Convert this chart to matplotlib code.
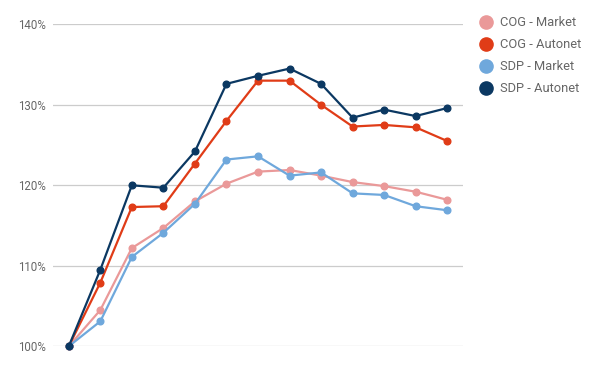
import matplotlib.pyplot as plt
from matplotlib.lines import Line2D

# values (percent of start)
periods = list(range(13))
cog_market = [100, 104.5, 112.2, 114.7, 118.0, 120.2, 121.7, 121.9, 121.2, 120.4, 119.9, 119.2, 118.2]
cog_autonet = [100, 107.9, 117.3, 117.4, 122.7, 128.0, 133.0, 133.0, 130.0, 127.3, 127.5, 127.2, 125.5]
sdp_market = [100, 103.1, 111.1, 114.1, 117.7, 123.2, 123.6, 121.2, 121.6, 119.0, 118.8, 117.4, 116.9]
sdp_autonet = [100, 109.5, 120.0, 119.7, 124.2, 132.6, 133.6, 134.5, 132.6, 128.4, 129.4, 128.6, 129.6]

series = [
    ("COG - Market", cog_market, "#ea9999"),
    ("COG - Autonet", cog_autonet, "#e03c17"),
    ("SDP - Market", sdp_market, "#6fa8dc"),
    ("SDP - Autonet", sdp_autonet, "#0b3862"),
]

plt.rcParams['font.family'] = ['Roboto', 'DejaVu Sans']

fig = plt.figure(figsize=(6, 3.71), dpi=100)
ax = fig.add_axes([53 / 600, 1 - 346.3 / 371, 410 / 600, 322 / 371])

handles = []
for name, vals, col in series:
    ax.plot(periods, vals, color=col, lw=1.6, marker='o', ms=4.8, clip_on=False, zorder=3)
    handles.append(Line2D([], [], color=col, marker='o', ls='none', ms=9.5, label=name))

ax.set_xlim(-0.5, 12.5)
ax.set_ylim(100, 140)
ax.set_yticks([100, 110, 120, 130, 140])
ax.set_yticklabels([f"{v}%" for v in [100, 110, 120, 130, 140]])
ax.set_xticks([])
ax.grid(axis='y', color='#cccccc', lw=0.9)
ax.set_axisbelow(True)
for s in ax.spines.values():
    s.set_visible(False)
ax.tick_params(axis='y', length=0, pad=5, labelsize=8.3, labelcolor='#666666')

fig.legend(handles=handles, loc='upper left', bbox_to_anchor=(474 / 600, 1 - 11 / 371),
           frameon=False, fontsize=9.3, labelcolor='#666666', handletextpad=0.55,
           labelspacing=0.7, handlelength=1.1, borderaxespad=0)

fig.savefig('out.png', dpi=100)
